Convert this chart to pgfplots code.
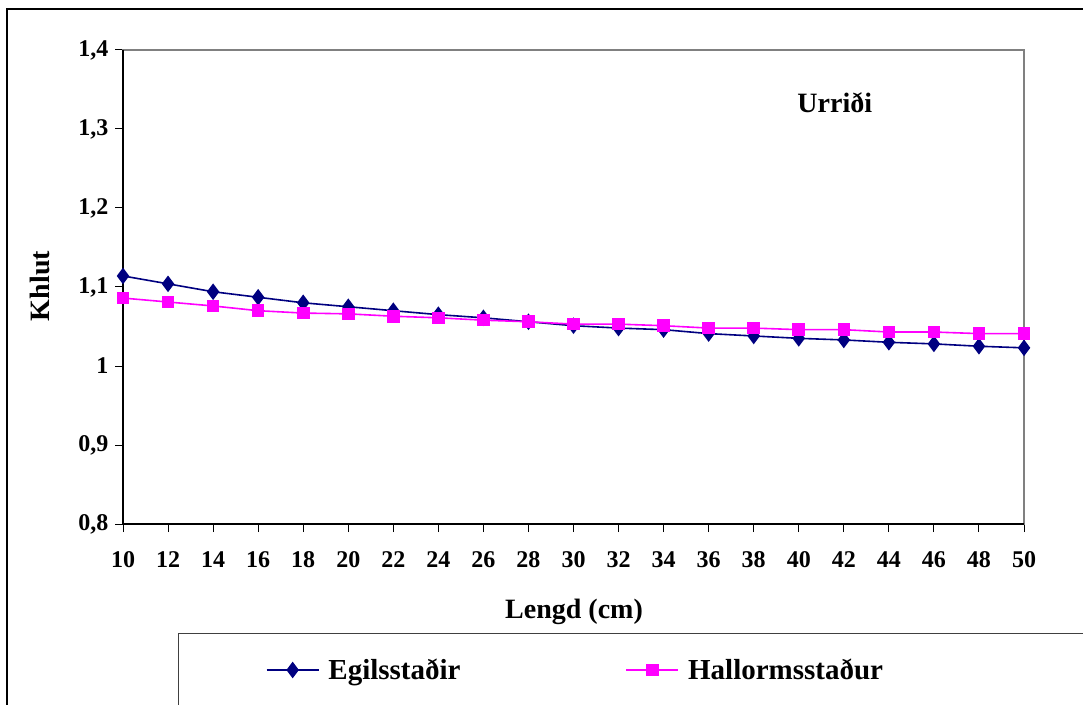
\documentclass[border=0pt]{standalone}
\usepackage{pgfplots}
\pgfplotsset{compat=1.18}
\usepackage{fontspec}
\setmainfont{Liberation Serif}
\definecolor{egnavy}{RGB}{0,0,128}
\definecolor{hamag}{RGB}{255,0,255}
\begin{document}
\begin{tikzpicture}[x=1pt,y=1pt]
\path[use as bounding box] (0,0) rectangle (1083,704);
\draw[line width=1.3pt,black] (7,-10) -- (7,695) -- (1100,695);
\draw[line width=1pt,black!75] (178,-10) -- (178,71) -- (1100,71);
\begin{axis}[
  at={(123pt,180pt)}, anchor=south west,
  scale only axis, width=901pt, height=474pt,
  xmin=10, xmax=50, ymin=0.8, ymax=1.4,
  xtick={10,12,...,50},
  ytick={0.8,0.9,1,1.1,1.2,1.3,1.4},
  yticklabels={{0,8},{0,9},{1},{1,1},{1,2},{1,3},{1,4}},
  tick pos=left,
  tick align=outside,
  major tick length=8pt,
  tick style={black, line width=1pt},
  axis line style={black!50, line width=1.3pt},
  /pgf/number format/assume math mode=true,
  ticklabel style={font=\fontsize{24}{24}\selectfont\bfseries},
  xticklabel style={anchor=center, yshift=-28pt},
  yticklabel style={anchor=east, xshift=-3pt},
  xlabel={Lengd (cm)}, ylabel={Khlut},
  label style={font=\fontsize{28}{28}\selectfont\bfseries},
  xlabel style={at={(axis description cs:0.5006,-0.1857)}, anchor=center},
  ylabel style={at={(axis description cs:-0.0921,0.502)}, anchor=center},
  legend columns=2,
  legend style={draw=none, fill=none, at={(axis description cs:0.155,-0.308)}, anchor=west,
    font=\fontsize{29}{29}\selectfont\bfseries,
    /tikz/every odd column/.append style={column sep=7pt},
    /tikz/every even column/.append style={column sep=163pt}},
  legend image code/.code={\draw[mark repeat=2,mark phase=2] plot coordinates {(0pt,0pt) (26pt,0pt) (52pt,0pt)};},
  clip=false,
]
\draw[black, line width=1.3pt] (rel axis cs:0,1) -- (rel axis cs:0,0) -- (rel axis cs:1,0);
\addplot[egnavy, line width=1.6pt, mark=diamond*, mark size=7pt, mark options={fill=egnavy, draw=egnavy}] coordinates {
(10,1.114) (12,1.104) (14,1.094) (16,1.087) (18,1.080) (20,1.075) (22,1.070)
(24,1.065) (26,1.061) (28,1.056) (30,1.051) (32,1.048) (34,1.046) (36,1.041)
(38,1.038) (40,1.035) (42,1.033) (44,1.030) (46,1.028) (48,1.025) (50,1.023)};
\addlegendentry{Egilsstaðir}
\addplot[hamag, line width=1.6pt, mark=square*, mark size=5.5pt, mark options={fill=hamag, draw=hamag}] coordinates {
(10,1.086) (12,1.081) (14,1.076) (16,1.070) (18,1.067) (20,1.066) (22,1.063)
(24,1.061) (26,1.058) (28,1.056) (30,1.053) (32,1.053) (34,1.051) (36,1.048)
(38,1.048) (40,1.046) (42,1.046) (44,1.043) (46,1.043) (48,1.041) (50,1.041)};
\addlegendentry{Hallormsstaður}
\node[font=\fontsize{28}{28}\selectfont\bfseries] at (axis description cs:0.790,0.888) {Urriði};
\end{axis}
\end{tikzpicture}
\end{document}
